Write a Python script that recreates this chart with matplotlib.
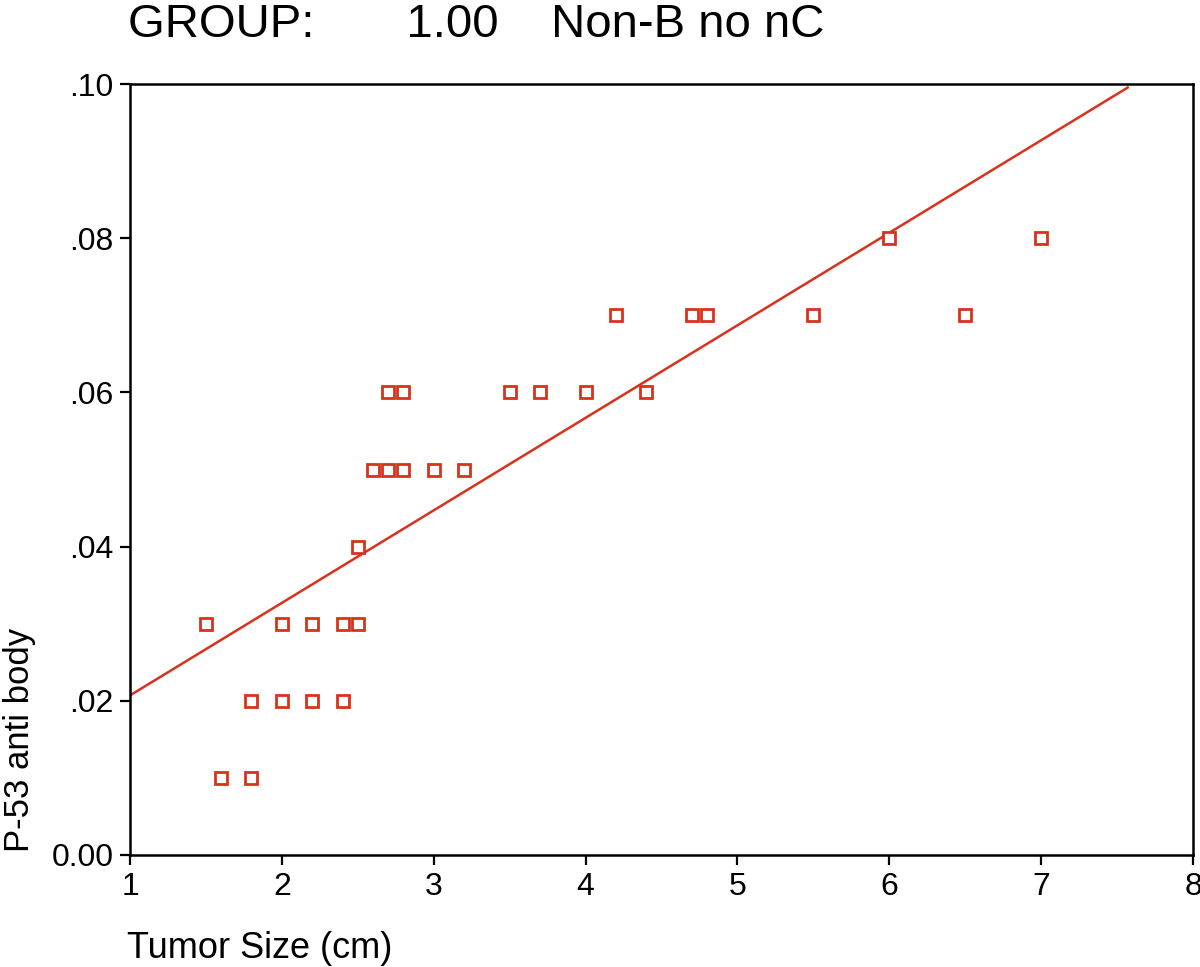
import matplotlib
matplotlib.use("Agg")
import matplotlib.pyplot as plt
import numpy as np

tumor_size = [1.5, 1.6, 1.8, 1.8, 2.0, 2.0, 2.2, 2.2, 2.4, 2.4, 2.5, 2.5, 2.6, 2.7, 2.8,
              2.7, 2.8, 3.0, 3.2, 3.5, 3.7, 4.0, 4.4, 4.2, 4.7, 4.8, 5.5, 6.0, 6.5, 7.0]
p53 = [0.03, 0.01, 0.01, 0.02, 0.03, 0.02, 0.03, 0.02, 0.03, 0.02, 0.03, 0.04, 0.05, 0.05, 0.05,
       0.06, 0.06, 0.05, 0.05, 0.06, 0.06, 0.06, 0.06, 0.07, 0.07, 0.07, 0.07, 0.08, 0.07, 0.08]
fit_intercept = 0.0087
fit_slope = 0.0120
fit_x_range = [1.0, 7.57]

x_ticks = [1, 2, 3, 4, 5, 6, 7, 8]
y_ticks = [0.0, 0.02, 0.04, 0.06, 0.08, 0.10]
y_tick_labels = ["0.00", ".02", ".04", ".06", ".08", ".10"]

title = "GROUP:       1.00    Non-B no nC"
xlabel = "Tumor Size (cm)"
ylabel = "P-53 anti body"

red = "#d8321e"
fam = ["Liberation Sans", "DejaVu Sans"]
plt.rcParams["font.family"] = fam

fig = plt.figure(figsize=(12, 9.67), dpi=100)
ax = fig.add_axes([130 / 1200, 1 - 855 / 967, (1193 - 130) / 1200, (855 - 84) / 967])

fx = np.array(fit_x_range)
ax.plot(fx, fit_intercept + fit_slope * fx, color=red, lw=1.8, zorder=2)
ax.plot(tumor_size, p53, ls="none", marker="s", markersize=9, markerfacecolor="white",
        markeredgecolor=red, markeredgewidth=2.0, zorder=3)

ax.set_xlim(1, 8)
ax.set_ylim(0, 0.10)
ax.set_xticks(x_ticks)
ax.set_xticklabels([str(t) for t in x_ticks])
ax.set_yticks(y_ticks)
ax.set_yticklabels(y_tick_labels)
ax.tick_params(direction="out", length=7, width=1.6, labelsize=23, pad=5)
for s in ax.spines.values():
    s.set_linewidth(1.8)

fig.text(128 / 1200, 1 - 37 / 967, title, fontsize=34, ha="left", va="baseline")
fig.text(127 / 1200, 1 - 958 / 967, xlabel, fontsize=26, ha="left", va="baseline")
fig.text(20 / 1200, 1 - 740 / 967, ylabel, fontsize=25, ha="center", va="center", rotation=90)

fig.savefig("out.png", dpi=100)
